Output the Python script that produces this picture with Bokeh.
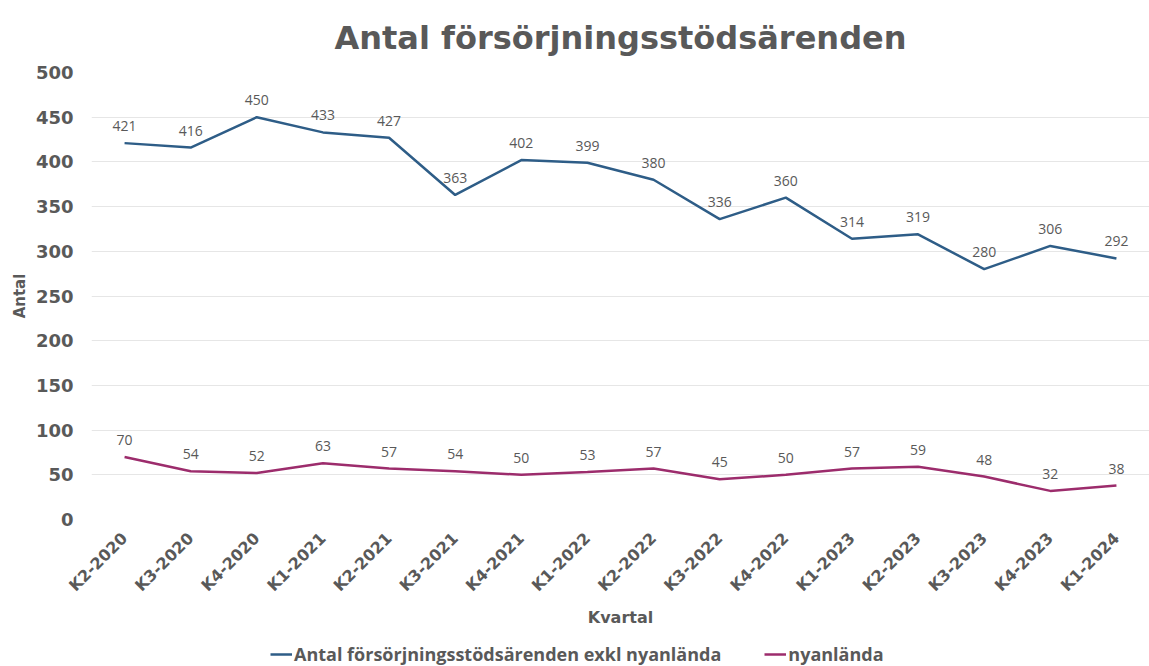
from bokeh.plotting import figure
from bokeh.layouts import column
from bokeh.models import ColumnDataSource, Legend, LegendItem, Range1d, FactorRange, SingleIntervalTicker
from bokeh.core.properties import value
from bokeh.embed import file_html
from bokeh.resources import INLINE
import math

quarters = ["K2-2020", "K3-2020", "K4-2020", "K1-2021", "K2-2021", "K3-2021", "K4-2021",
            "K1-2022", "K2-2022", "K3-2022", "K4-2022", "K1-2023", "K2-2023", "K3-2023",
            "K4-2023", "K1-2024"]
exkl = [421, 416, 450, 433, 427, 363, 402, 399, 380, 336, 360, 314, 319, 280, 306, 292]
nyanlanda = [70, 54, 52, 63, 57, 54, 50, 53, 57, 45, 50, 57, 59, 48, 32, 38]
series_names = ["Antal försörjningsstödsärenden exkl nyanlända", "nyanlända"]

BLUE = "#2E5D87"
MAGENTA = "#9C2C6C"
GRAY = "#595959"
FONT = "Open Sans"
AXFONT = "DejaVu Sans"

p = figure(width=1149, height=640, x_range=FactorRange(*quarters, range_padding=0),
           y_range=Range1d(0, 500), output_backend="svg", toolbar_location=None,
           title="Antal försörjningsstödsärenden", min_border_left=91, min_border_right=0,
           min_border_top=71, min_border_bottom=121)
p.outline_line_color = None
p.title.align = "center"
p.title.text_font = AXFONT
p.title.text_font_size = "32px"
p.title.text_font_style = "bold"
p.title.text_color = GRAY
p.title.standoff = 32

src = ColumnDataSource(dict(q=quarters, a=exkl, b=nyanlanda,
                            at=[str(v) for v in exkl], bt=[str(v) for v in nyanlanda]))

p.line("q", "a", source=src, line_color=BLUE, line_width=2.5)
p.line("q", "b", source=src, line_color=MAGENTA, line_width=2.5)

p.text("q", "a", text="at", source=src, text_align="center", text_baseline="middle",
       y_offset=-17, text_font=value(FONT), text_font_size="14px", text_color=GRAY)
p.text("q", "b", text="bt", source=src, text_align="center", text_baseline="middle",
       y_offset=-17, text_font=value(FONT), text_font_size="14px", text_color=GRAY)

p.yaxis.ticker = SingleIntervalTicker(interval=50)
p.ygrid.grid_line_color = "#E6E6E6"
p.xgrid.grid_line_color = None
for ax in (p.xaxis, p.yaxis):
    ax.axis_line_color = None
    ax.major_tick_line_color = None
    ax.minor_tick_line_color = None
    ax.major_label_text_font = AXFONT
    ax.major_label_text_font_style = "bold"
    ax.major_label_text_color = GRAY
    ax.axis_label_text_font = AXFONT
    ax.axis_label_text_font_style = "bold"
    ax.axis_label_text_color = GRAY
p.yaxis.major_label_text_font_size = "18px"
p.yaxis.axis_label = "Antal"
p.yaxis.axis_label_text_font_size = "15px"
p.yaxis.major_label_standoff = 12
p.yaxis.axis_label_standoff = 4
p.xaxis.major_label_text_font_size = "16px"
p.xaxis.major_label_orientation = math.pi / 4
p.xaxis.major_label_standoff = 10
p.xaxis.axis_label = "Kvartal"
p.xaxis.axis_label_text_font_size = "16px"
p.xaxis.axis_label_standoff = 3

# legend strip below the chart (series drawn out of view; only the legend shows)
lf = figure(width=1149, height=26, output_backend="svg", toolbar_location=None,
            x_axis_type=None, y_axis_type=None, min_border=0,
            x_range=FactorRange(*quarters), y_range=Range1d(-2000, -1000))
lf.outline_line_color = None
lf.grid.grid_line_color = None
l1 = lf.line("q", "a", source=src, line_color=BLUE, line_width=2.5)
l2 = lf.line("q", "b", source=src, line_color=MAGENTA, line_width=2.5)
legend = Legend(items=[LegendItem(label=series_names[0], renderers=[l1]),
                       LegendItem(label=series_names[1], renderers=[l2])],
                orientation="horizontal", location=(179, 0), border_line_color=None,
                background_fill_alpha=0,
                label_text_font=FONT, label_text_font_size="18px", label_text_font_style="bold",
                label_text_color=GRAY, glyph_width=22, glyph_height=20, label_height=20,
                spacing=43, label_standoff=2, padding=0, margin=0)
lf.add_layout(legend)

layout = column(p, lf, spacing=0)
open("out.html", "w").write(file_html(layout, INLINE))
